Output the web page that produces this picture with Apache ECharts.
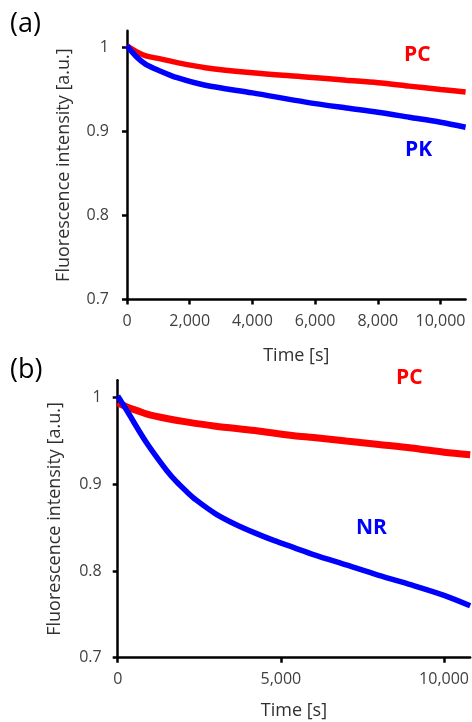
<!DOCTYPE html>
<html>
<head>
<meta charset="utf-8">
<script src="https://cdn.jsdelivr.net/npm/echarts@6/dist/echarts.min.js"></script>
<style>html,body{margin:0;padding:0;background:#fff}#c{width:472px;height:722px}</style>
</head>
<body>
<div id="c"></div>
<script>
// Panel (a)
const timeA = [0, 300, 600, 1000, 1600, 2500, 4000, 5700, 7000, 8000, 9000, 10000, 10800];
const pcA   = [1.002, 0.995, 0.990, 0.987, 0.982, 0.976, 0.970, 0.965, 0.961, 0.958, 0.954, 0.950, 0.947];
const pkA   = [1.002, 0.989, 0.980, 0.973, 0.964, 0.955, 0.946, 0.935, 0.928, 0.923, 0.917, 0.911, 0.905];
// Panel (b)
const timeBpc = [0, 300, 600, 900, 1500, 2100, 3000, 4200, 5400, 6000, 7000, 8000, 9000, 10000, 10800];
const pcB     = [0.994, 0.989, 0.985, 0.981, 0.976, 0.972, 0.967, 0.962, 0.956, 0.954, 0.950, 0.946, 0.942, 0.937, 0.934];
const timeBnr = [0, 300, 600, 900, 1200, 1500, 1800, 2100, 2400, 3000, 3600, 4200, 4800, 5400, 6000, 7000, 8000, 9000, 10000, 10800];
const nrB     = [1.002, 0.984, 0.965, 0.947, 0.931, 0.916, 0.903, 0.892, 0.882, 0.866, 0.854, 0.844, 0.835, 0.827, 0.819, 0.807, 0.795, 0.784, 0.772, 0.760];
// Ticks
const yTicks = [0.7, 0.8, 0.9, 1];
const xTicksA = [0, 2000, 4000, 6000, 8000, 10000];
const xTicksB = [0, 5000, 10000];

const FONT = '"Open Sans", "DejaVu Sans", sans-serif';
const TXT = '#404040';
const zip = (t, v) => t.map((x, i) => [x, v[i]]);

function xAxis(gi, ticks, gap) {
  return {
    gridIndex: gi, type: 'value', min: 0, max: 10800,
    name: 'Time [s]', nameLocation: 'middle', nameGap: gap,
    nameTextStyle: { fontFamily: FONT, fontSize: 18, color: '#303030' },
    axisLine: { show: true, onZero: false, lineStyle: { color: '#000', width: 2.5 } },
    axisTick: { show: true, length: 5, inside: false, customValues: ticks, lineStyle: { color: '#000', width: 2.5 } },
    axisLabel: { show: true, margin: 14, customValues: ticks, fontFamily: FONT, fontSize: 16, color: TXT,
      formatter: v => Number(v).toLocaleString('en-US') },
    splitLine: { show: false }
  };
}
function yAxis(gi, margin) {
  return {
    gridIndex: gi, type: 'value', min: 0.7, max: 1.02,
    name: 'Fluorescence intensity [a.u.]', nameLocation: 'middle', nameGap: 54, nameRotate: 90,
    nameTextStyle: { fontFamily: FONT, fontSize: 18, color: '#303030' },
    axisLine: { show: true, onZero: false, lineStyle: { color: '#000', width: 2.5 } },
    axisTick: { show: true, length: 5, inside: false, customValues: yTicks, lineStyle: { color: '#000', width: 2.5 } },
    axisLabel: { show: true, margin: margin, customValues: yTicks, fontFamily: FONT, fontSize: 16, color: TXT,
      formatter: v => (Math.abs(v - 1) < 1e-9 ? '1' : Number(v).toFixed(1)) },
    splitLine: { show: false }
  };
}
function line(xi, data, color, w) {
  return { type: 'line', xAxisIndex: xi, yAxisIndex: xi, data: data, smooth: 0.3,
    showSymbol: false, symbol: 'none', lineStyle: { color: color, width: w }, clip: true, animation: false };
}
function txt(x, y, s, color, size, weight) {
  return { type: 'text', left: x, top: y, style: { text: s, fill: color, font: `${weight} ${size}px ${FONT}` } };
}

const chart = echarts.init(document.getElementById('c'), null, { renderer: 'canvas' });
chart.setOption({
  backgroundColor: '#fff',
  animation: false,
  grid: [
    { left: 127, top: 30.7, width: 338.6, height: 268.8, containLabel: false },
    { left: 117.7, top: 380.3, width: 355.3, height: 277.4, containLabel: false }
  ],
  xAxis: [xAxis(0, xTicksA, 47), xAxis(1, xTicksB, 44)],
  yAxis: [yAxis(0, 18), yAxis(1, 16)],
  series: [
    line(0, zip(timeA, pcA), '#ff0000', 5.5),
    line(0, zip(timeA, pkA), '#0000ff', 5.5),
    line(1, zip(timeBpc, pcB), '#ff0000', 7),
    line(1, zip(timeBnr, nrB), '#0000ff', 5.5)
  ],
  graphic: [
    txt(10, 11, '(a)', '#000', 27, 'normal'),
    txt(10, 357, '(b)', '#000', 27, 'normal'),
    txt(404, 45, 'PC', '#ff0000', 21, 'bold'),
    txt(405, 140, 'PK', '#0000ff', 21, 'bold'),
    txt(396, 368, 'PC', '#ff0000', 21, 'bold'),
    txt(356, 518, 'NR', '#0000ff', 21, 'bold')
  ]
});
</script>
</body>
</html>
